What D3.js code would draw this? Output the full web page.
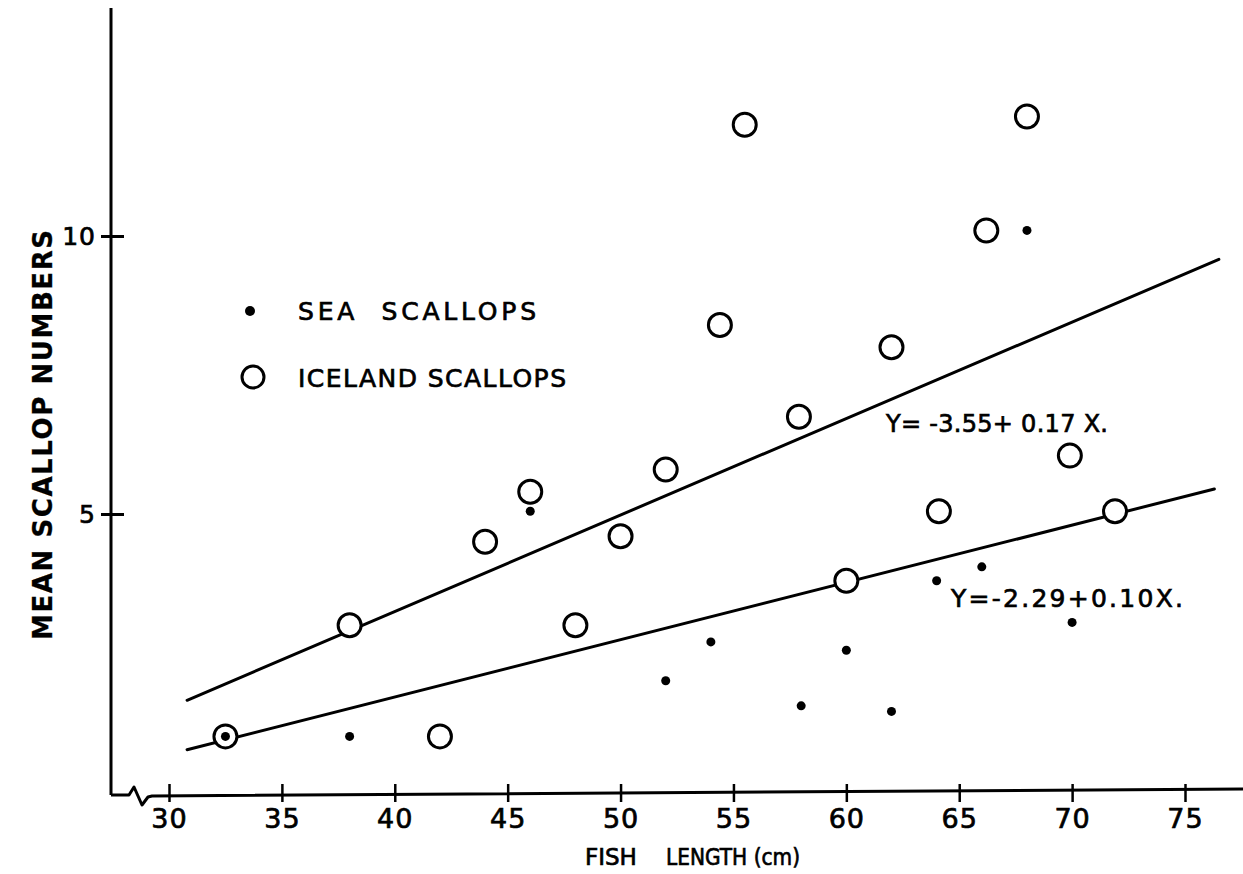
<!DOCTYPE html>
<html>
<head>
<meta charset="utf-8">
<script src="https://cdn.jsdelivr.net/npm/d3@7"></script>
<style>
  body { margin: 0; background: #fff; }
  text { font-family: "DejaVu Sans", sans-serif; fill: #000; stroke: #000; stroke-width: 0.7px; white-space: pre; }
</style>
</head>
<body>
<svg id="chart" width="1243" height="874"></svg>
<script>
// sea scallops (filled dots)
const seaX = [32.5, 38, 46, 52, 54, 58, 60, 62, 64, 66, 68, 70];
const seaY = [1.0, 1.0, 5.05, 2.0, 2.7, 1.55, 2.55, 1.45, 3.8, 4.05, 10.1, 3.05];
// iceland scallops (open circles)
const iceX = [32.5, 38, 42, 44, 46, 48, 50, 52, 54.4, 55.5, 57.9, 60, 62, 64.1, 66.2, 68, 69.9, 71.9];
const iceY = [1.0, 3.0, 1.0, 4.5, 5.4, 3.0, 4.6, 5.8, 8.4, 12.0, 6.75, 3.8, 8.0, 5.05, 10.1, 12.15, 6.05, 5.05];
// fitted lines, endpoints as drawn
const iceLine = [[30.8, 1.65], [76.5, 9.58]];
const seaLine = [[30.8, 0.76], [76.3, 5.45]];
const xTicks = [30, 35, 40, 45, 50, 55, 60, 65, 70, 75];
const yTicks = [5, 10];

const svg = d3.select("#chart");

const x = d3.scaleLinear().domain([30, 75]).range([169, 1185]);
const y = d3.scaleLinear().domain([0, 10]).range([792, 236]);

const ink = "#000";

// y axis line
svg.append("line")
    .attr("x1", 111).attr("x2", 111)
    .attr("y1", 8).attr("y2", 795)
    .attr("stroke", ink).attr("stroke-width", 3);

// x axis line with break
svg.append("path")
    .attr("d", "M111,795 L129,795 L134,787 L142,805 L148,797 L152,796 L1243,789")
    .attr("fill", "none")
    .attr("stroke", ink).attr("stroke-width", 3)
    .attr("stroke-linejoin", "round");

const xAxis = svg.append("g")
    .attr("transform", "translate(0,794)")
    .call(d3.axisBottom(x).tickValues(xTicks).tickSize(0).tickPadding(18));
xAxis.select(".domain").remove();
xAxis.selectAll(".tick line")
    .attr("y1", -10).attr("y2", 8)
    .attr("stroke", ink).attr("stroke-width", 2.5);
xAxis.selectAll(".tick text")
    .attr("font-size", 27)
    .attr("letter-spacing", 1)
    .attr("dy", "0.6em");

const yAxis = svg.append("g")
    .attr("transform", "translate(111,0)")
    .call(d3.axisLeft(y).tickValues(yTicks).tickSize(0).tickPadding(15));
yAxis.select(".domain").remove();
yAxis.selectAll(".tick line")
    .attr("x1", -10).attr("x2", 13)
    .attr("stroke", ink).attr("stroke-width", 3);
yAxis.selectAll(".tick text")
    .attr("font-size", 25)
    .attr("letter-spacing", 1);

// regression lines
const line = d3.line().x(d => x(d[0])).y(d => y(d[1]));
[iceLine, seaLine].forEach(l => {
    svg.append("path")
        .attr("d", line(l))
        .attr("fill", "none")
        .attr("stroke", ink)
        .attr("stroke-width", 3)
        .attr("stroke-linecap", "round");
});

// iceland circles
svg.append("g").selectAll("circle")
    .data(iceX.map((v, i) => [v, iceY[i]]))
    .enter().append("circle")
    .attr("cx", d => x(d[0]))
    .attr("cy", d => y(d[1]))
    .attr("r", 11.5)
    .attr("fill", "#fff")
    .attr("stroke", ink)
    .attr("stroke-width", 3);

// sea dots
svg.append("g").selectAll("circle")
    .data(seaX.map((v, i) => [v, seaY[i]]))
    .enter().append("circle")
    .attr("cx", d => x(d[0]))
    .attr("cy", d => y(d[1]))
    .attr("r", 4.5)
    .attr("fill", ink);

// legend
svg.append("circle").attr("cx", 250).attr("cy", 311).attr("r", 5).attr("fill", ink);
svg.append("circle").attr("cx", 253).attr("cy", 377).attr("r", 11)
    .attr("fill", "none").attr("stroke", ink).attr("stroke-width", 3);
svg.append("text").attr("x", 298).attr("y", 320)
    .attr("font-size", 25).attr("textLength", 238).attr("lengthAdjust", "spacing")
    .text("SEA  SCALLOPS");
svg.append("text").attr("x", 298).attr("y", 387)
    .attr("font-size", 25).attr("textLength", 268).attr("lengthAdjust", "spacing")
    .text("ICELAND SCALLOPS");

// equations
svg.append("text").attr("x", 886).attr("y", 432)
    .attr("font-size", 24).attr("textLength", 222).attr("lengthAdjust", "spacing")
    .text("Y= -3.55+ 0.17 X.");
svg.append("text").attr("x", 951).attr("y", 607)
    .attr("font-size", 25).attr("textLength", 232).attr("lengthAdjust", "spacing")
    .text("Y=-2.29+0.10X.");

// axis titles
svg.append("text").attr("x", 585).attr("y", 865)
    .attr("font-size", 23)
    .text("FISH");
svg.append("text").attr("x", 666).attr("y", 865)
    .attr("font-size", 23).attr("textLength", 134).attr("lengthAdjust", "spacingAndGlyphs")
    .text("LENGTH (cm)");
svg.append("text")
    .attr("transform", "translate(52,640) rotate(-90)")
    .attr("font-size", 26).attr("font-weight", "bold")
    .style("stroke-width", "0.3px")
    .attr("textLength", 410).attr("lengthAdjust", "spacing")
    .text("MEAN SCALLOP NUMBERS");
</script>
</body>
</html>
